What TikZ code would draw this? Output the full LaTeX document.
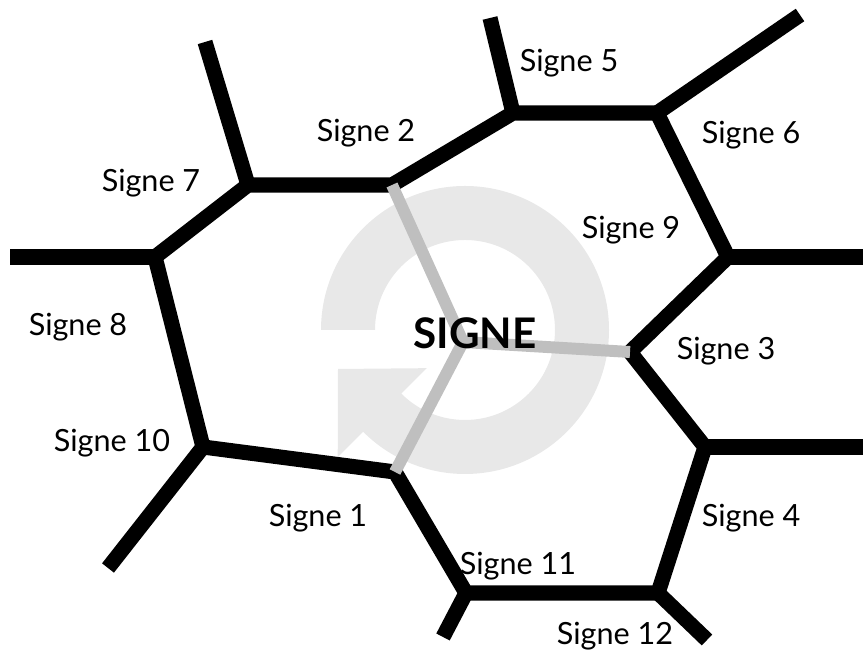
\documentclass[tikz,border=0pt]{standalone}
\usepackage{fontspec}
\setmainfont{Lato}
\begin{document}
\begin{tikzpicture}[
    wall/.style={line width=4.3pt, black, line join=miter},
    link/.style={line width=3.4pt, black!25},
    ring/.style={fill=black!9},
    lbl/.style={font=\fontsize{8.7}{10}\selectfont}]
        \useasboundingbox (0,0) rectangle (8.63,6.53);

        % Circular arrow behind the centre
        \begin{scope}[shift={(4.65,3.23)}]
            \fill[ring] (180:1.44) arc[start angle=180, end angle=-135, radius=1.44]
                -- (225:1.80) -- (-1.27,-0.39) -- (225:0.54) -- (225:0.90)
                arc[start angle=-135, end angle=180, radius=0.90] -- cycle;
        \end{scope}

        % Corners of the cells
        \coordinate (c7) at (2.48,4.68);
        \coordinate (c2) at (3.92,4.68);
        \coordinate (c5) at (5.13,5.40);
        \coordinate (c6) at (6.57,5.40);
        \coordinate (c9) at (7.28,3.96);
        \coordinate (c3) at (6.30,3.01);
        \coordinate (c4) at (7.05,2.06);
        \coordinate (c12) at (6.58,0.60);
        \coordinate (c11) at (4.66,0.60);
        \coordinate (c1) at (3.95,1.81);
        \coordinate (c10) at (2.03,2.06);
        \coordinate (c8) at (1.55,3.96);
        \coordinate (hub) at (4.63,3.11);

        % Free ends
        \coordinate (e7) at (2.05,6.11);
        \coordinate (e5) at (4.90,6.35);
        \coordinate (e6) at (8.00,6.38);
        \coordinate (e9) at (8.63,3.96);
        \coordinate (e4) at (8.63,2.06);
        \coordinate (e12) at (7.07,0.13);
        \coordinate (e11) at (4.43,0.16);
        \coordinate (e10) at (1.08,0.85);
        \coordinate (e8) at (0.10,3.96);

        % Walls
        \draw[wall] (c7) -- (c2) -- (c5) -- (c6) -- (c9) -- (c3) -- (c4)
            -- (c12) -- (c11) -- (c1) -- (c10) -- (c8) -- cycle;
        \draw[wall] (c7) -- (e7);
        \draw[wall] (c5) -- (e5);
        \draw[wall] (c6) -- (e6);
        \draw[wall] (c9) -- (e9);
        \draw[wall] (c4) -- (e4);
        \draw[wall] (c12) -- (e12);
        \draw[wall] (c11) -- (e11);
        \draw[wall] (c10) -- (e10);
        \draw[wall] (c8) -- (e8);

        % Grey links to the centre
        \draw[link] (hub) -- (c2);
        \draw[link] (hub) -- (c3);
        \draw[link] (hub) -- (c1);

        % Labels
        \node[font=\bfseries\fontsize{12}{14}\selectfont] (signe) at (4.75,3.20) {SIGNE};
        \node[lbl] (s1) at (3.18,1.35) {Signe 1};
        \node[lbl] (s2) at (3.66,5.20) {Signe 2};
        \node[lbl] (s3) at (7.26,3.02) {Signe 3};
        \node[lbl] (s4) at (7.51,1.35) {Signe 4};
        \node[lbl] (s5) at (5.69,5.90) {Signe 5};
        \node[lbl] (s6) at (7.51,5.18) {Signe 6};
        \node[lbl] (s7) at (1.51,4.70) {Signe 7};
        \node[lbl] (s8) at (0.78,3.26) {Signe 8};
        \node[lbl] (s9) at (6.31,4.23) {Signe 9};
        \node[lbl] (s10) at (1.12,2.10) {Signe 10};
        \node[lbl] (s11) at (5.18,0.87) {Signe 11};
        \node[lbl] (s12) at (6.15,0.17) {Signe 12};

\end{tikzpicture}
\end{document}
